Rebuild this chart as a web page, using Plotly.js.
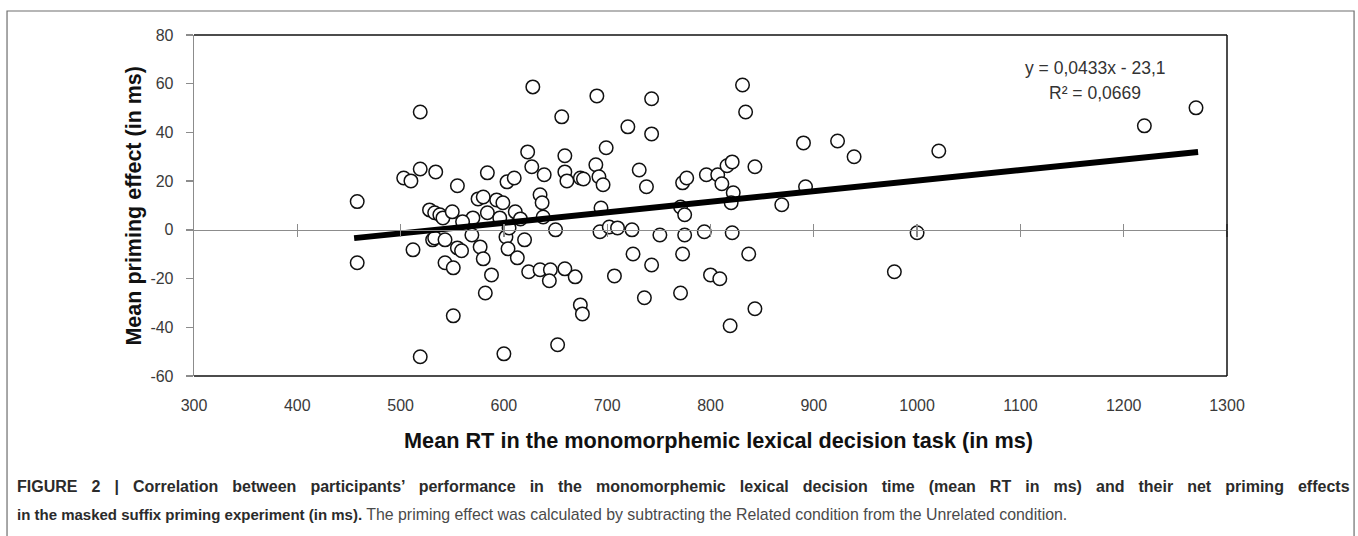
<!DOCTYPE html>
<html>
<head>
<meta charset="utf-8">
<script src="https://cdn.plot.ly/plotly-3.0.1.min.js"></script>
<style>
  html, body { margin: 0; padding: 0; background: #ffffff; }
  #chart { width: 1358px; height: 536px; }
</style>
</head>
<body>
<div id="chart"></div>
<script>
// Mean RT in the monomorphemic lexical decision task (ms)
const rtX = [
  458, 458, 519, 519, 503, 510, 519, 534, 512, 528,
  533, 538, 541, 531, 533, 543, 543, 551, 551, 555,
  550, 555, 559, 569, 570, 560, 575, 577, 580, 582,
  584, 580, 584, 588, 593, 599, 596, 603, 602, 605,
  604, 610, 611, 613, 600, 616, 620, 623, 627, 628,
  624, 635, 637, 639, 638, 635, 645, 644, 650, 652,
  656, 659, 659, 661, 659, 669, 674, 676, 674, 677,
  689, 690, 692, 694, 693, 696, 699, 702, 710, 707,
  720, 724, 725, 731, 736, 738, 743, 743, 743, 751,
  771, 773, 777, 775, 775, 773, 771, 796, 794, 800,
  807, 811, 809, 816, 821, 822, 820, 821, 819, 831,
  834, 837, 843, 843, 869, 890, 892, 923, 939, 978,
  1000, 1021, 1220, 1270
];
// Mean priming effect (ms)
const primingY = [
  11.6, -13.5, 48.4, -52.1, 21.3, 20.1, 25.0, 23.8, -8.2, 8.2,
  7.0, 6.2, 4.9, -4.1, -3.3, -4.1, -13.5, -15.6, -35.3, 18.1,
  7.4, -7.4, -8.6, -2.1, 4.9, 3.3, 12.7, -7.0, -11.9, -25.9,
  23.4, 13.5, 7.0, -18.5, 12.3, 11.1, 4.9, 19.7, -2.9, 0.8,
  -7.8, 21.3, 7.4, -11.5, -50.9, 4.5, -4.1, 32.0, 25.9, 58.7,
  -17.2, 14.4, 11.1, 22.6, 5.3, -16.4, -16.4, -20.9, 0.0, -47.2,
  46.4, 30.4, 23.8, 20.1, -16.0, -19.3, -30.8, -34.5, 21.3, 20.9,
  26.7, 55.0, 21.8, 9.0, -0.8, 18.5, 33.7, 1.2, 0.8, -18.9,
  42.3, 0.0, -9.9, 24.6, -27.9, 17.7, 53.8, 39.4, -14.4, -2.1,
  9.4, 19.3, 21.3, 6.2, -2.1, -9.9, -25.9, 22.6, -0.8, -18.5,
  22.6, 18.9, -20.1, 26.3, 27.9, 15.2, 11.1, -1.2, -39.4, 59.5,
  48.4, -9.9, 25.9, -32.4, 10.3, 35.7, 17.7, 36.5, 30.0, -17.2,
  -1.2, 32.4, 42.7, 50.1
];
// Linear trend line end points (y = 0,0433x - 23,1)
const trendX = [455, 1272];
const trendY = [-3.4, 32.0];

const xTickVals = [300, 400, 500, 600, 700, 800, 900, 1000, 1100, 1200, 1300];
const xTickText = ['300', '400', '500', '600', '700', '800', '900', '1000', '1100', '1200', '1300'];
const xCrossTicks = [400, 500, 600, 700, 800, 900, 1000, 1100, 1200, 1300];
const yTickVals = [-60, -40, -20, 0, 20, 40, 60, 80];
const yTickText = ['-60', '-40', '-20', '0', '20', '40', '60', '80'];

const equationText = 'y = 0,0433x - 23,1';
const r2Text = 'R\u00B2 = 0,0669';
const xTitle = 'Mean RT in the monomorphemic lexical decision task (in ms)';
const yTitle = 'Mean priming effect (in ms)';
const captionBold1 = 'FIGURE 2 | Correlation between participants\u2019 performance in the monomorphemic lexical decision time (mean RT in ms) and their net priming effects';
const captionBold2 = 'in the masked suffix priming experiment (in ms).';
const captionRegular2 = ' The priming effect was calculated by subtracting the Related condition from the Unrelated condition.';

const sans = '"Liberation Sans", Arial, Helvetica, sans-serif';
const axisGrey = '#8c8c8c';

const traces = [
  {
    type: 'scatter', mode: 'markers',
    x: rtX, y: primingY,
    marker: { symbol: 'circle', size: 13.5, color: '#ffffff', line: { color: '#111111', width: 1.5 } },
    hoverinfo: 'x+y', showlegend: false
  },
  {
    type: 'scatter', mode: 'lines',
    x: trendX, y: trendY,
    line: { color: '#000000', width: 6 },
    hoverinfo: 'skip', showlegend: false
  },
  { type: 'scatter', x: [], y: [], xaxis: 'x2', yaxis: 'y', showlegend: false, hoverinfo: 'skip' },
  { type: 'scatter', x: [], y: [], xaxis: 'x3', yaxis: 'y', showlegend: false, hoverinfo: 'skip' }
];

const zeroPos = (0 - yTickVals[0]) / (yTickVals[yTickVals.length - 1] - yTickVals[0]);

const layout = {
  width: 1358, height: 536,
  margin: { l: 194, r: 131, t: 35, b: 160, pad: 0 },
  paper_bgcolor: '#ffffff', plot_bgcolor: '#ffffff',
  showlegend: false,
  xaxis: {
    range: [300, 1300], tickmode: 'array', tickvals: xTickVals, ticktext: xTickText,
    showgrid: false, zeroline: false, showline: false,
    ticks: 'outside', ticklen: 15, tickcolor: 'rgba(0,0,0,0)',
    tickfont: { family: sans, size: 16, color: '#3a3a3a' },
    fixedrange: true
  },
  xaxis2: {
    overlaying: 'x', anchor: 'free', position: zeroPos, side: 'bottom',
    range: [300, 1300], tickmode: 'array', tickvals: xCrossTicks,
    showgrid: false, zeroline: false, showline: true, linecolor: axisGrey, linewidth: 1.3,
    ticks: 'outside', ticklen: 6, tickcolor: axisGrey, tickwidth: 1.3,
    showticklabels: false, fixedrange: true
  },
  xaxis3: {
    overlaying: 'x', anchor: 'free', position: zeroPos, side: 'top',
    range: [300, 1300], tickmode: 'array', tickvals: xCrossTicks,
    showgrid: false, zeroline: false, showline: false,
    ticks: 'outside', ticklen: 6, tickcolor: axisGrey, tickwidth: 1.3,
    showticklabels: false, fixedrange: true
  },
  yaxis: {
    range: [-60, 80], tickmode: 'array', tickvals: yTickVals, ticktext: yTickText,
    showgrid: false, zeroline: false,
    showline: true, linecolor: axisGrey, linewidth: 1.3,
    ticks: 'outside', ticklen: 7, tickcolor: axisGrey, tickwidth: 1.3,
    ticklabelstandoff: 9,
    tickfont: { family: sans, size: 16, color: '#3a3a3a' },
    fixedrange: true
  },
  shapes: [
    { type: 'line', xref: 'paper', yref: 'paper', x0: 0, x1: 1, y0: 1, y1: 1, line: { color: '#111111', width: 1.5 } },
    { type: 'line', xref: 'paper', yref: 'paper', x0: 1, x1: 1, y0: 0, y1: 1, line: { color: '#111111', width: 1.5 } },
    { type: 'line', xref: 'paper', yref: 'paper', x0: 0, x1: 1, y0: 0, y1: 0, line: { color: '#111111', width: 1.5 } },
    { type: 'rect', xref: 'paper', yref: 'paper', x0: -0.181, x1: 1.123, y0: -0.55, y1: 1.0704, line: { color: '#6e6e6e', width: 1.2 }, fillcolor: 'rgba(0,0,0,0)' }
  ],
  annotations: [
    { xref: 'paper', yref: 'paper', x: 0.8725, y: 0.903, text: equationText, showarrow: false,
      font: { family: sans, size: 17.5, color: '#333333' }, xanchor: 'center', yanchor: 'middle' },
    { xref: 'paper', yref: 'paper', x: 0.8725, y: 0.830, text: r2Text, showarrow: false,
      font: { family: sans, size: 17.5, color: '#333333' }, xanchor: 'center', yanchor: 'middle' },
    { xref: 'paper', yref: 'paper', x: 0.508, y: -0.1877, text: '<b>' + xTitle + '</b>', showarrow: false,
      font: { family: sans, size: 21.7, color: '#111111' }, xanchor: 'center', yanchor: 'middle' },
    { xref: 'paper', yref: 'paper', x: -0.059, y: 0.5, text: '<b>' + yTitle + '</b>', showarrow: false, textangle: -90,
      font: { family: sans, size: 21.5, color: '#111111' }, xanchor: 'center', yanchor: 'middle' },
    { xref: 'paper', yref: 'paper', x: -0.1733, y: -0.3255,
      text: '<span style="word-spacing:9.6px"><b>' + captionBold1 + '</b></span>', showarrow: false,
      font: { family: sans, size: 16, color: '#2b2b2b' }, xanchor: 'left', yanchor: 'middle', align: 'left' },
    { xref: 'paper', yref: 'paper', x: -0.1733, y: -0.4076,
      text: '<b>' + captionBold2 + '</b><span style="color:#4a4a4a;font-size:15.9px">' + captionRegular2 + '</span>', showarrow: false,
      font: { family: sans, size: 15, color: '#2b2b2b' }, xanchor: 'left', yanchor: 'middle', align: 'left' }
  ]
};

Plotly.newPlot('chart', traces, layout, { displayModeBar: false, staticPlot: true });
</script>
</body>
</html>
